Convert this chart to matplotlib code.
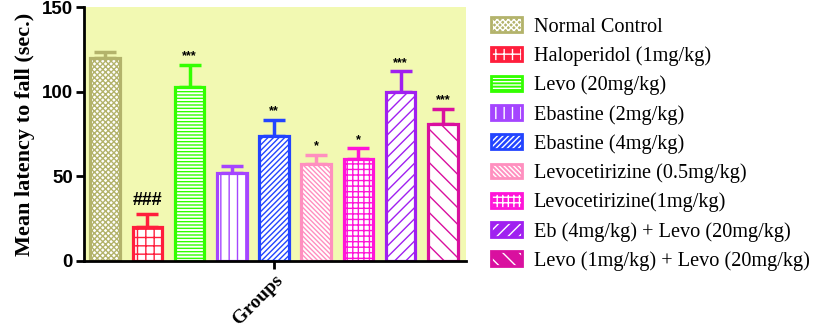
import matplotlib
matplotlib.use("Agg")
import matplotlib.pyplot as plt
from matplotlib.patches import Patch
from matplotlib.legend_handler import HandlerTuple
import numpy as np

groups = [
    "Normal Control",
    "Haloperidol (1mg/kg)",
    "Levo (20mg/kg)",
    "Ebastine (2mg/kg)",
    "Ebastine (4mg/kg)",
    "Levocetirizine (0.5mg/kg)",
    "Levocetirizine(1mg/kg)",
    "Eb (4mg/kg) + Levo (20mg/kg)",
    "Levo (1mg/kg) + Levo (20mg/kg)",
]
means = [120, 20, 103, 52, 74, 57, 60, 100, 81]
errors = [3.5, 8, 13, 4, 9.5, 5.5, 6.5, 12, 9]
marks = ["", "###", "***", "", "**", "*", "*", "***", "***"]

colors = ["#b3b36b", "#ff1e3c", "#33ff00", "#a545ff", "#2244ff",
          "#ff8fbf", "#ff14d8", "#a020f0", "#d9109f"]
hatches = ["xxxxxx", "++", "-----", "||", "//////", "\\\\\\\\\\\\\\", "+++", "///", "\\\\"]

fig = plt.figure(figsize=(8.27, 3.29), dpi=100)
ax = fig.add_axes([0.1016, 0.2067, 0.462, 0.772])
ax.set_facecolor("#f2f9b2")

x = np.arange(len(groups))
for i in x:
    ax.bar(i, means[i], width=0.7, color="white", edgecolor=colors[i],
           hatch=hatches[i], linewidth=2.3, zorder=2)
    ax.errorbar(i, means[i], yerr=[[0], [errors[i]]], fmt="none",
                ecolor=colors[i], elinewidth=2.5, capsize=8, capthick=2.5, zorder=1)
    if marks[i]:
        if marks[i].startswith("#"):
            ax.text(i, means[i] + errors[i] + 3, marks[i], ha="center", va="bottom",
                    fontsize=13, fontweight="bold", family="Liberation Sans")
        else:
            ax.text(i, means[i] + errors[i] + 1.5, marks[i], ha="center", va="bottom",
                    fontsize=9, fontweight="bold", family="Liberation Sans")

ax.set_xlim(-0.5, 8.55)
ax.set_ylim(0, 150)
ax.set_yticks([0, 50, 100, 150])
ax.set_xticks([4])
ax.set_xticklabels(["Groups"], rotation=45, ha="right", rotation_mode="anchor",
                   fontsize=14, fontweight="bold", family="Liberation Serif")
for lab in ax.get_yticklabels():
    lab.set_fontsize(13.5)
    lab.set_fontweight("bold")
    lab.set_family("Liberation Sans")
ax.tick_params(axis="both", width=2, length=6, pad=2)
ax.spines["top"].set_visible(False)
ax.spines["right"].set_visible(False)
ax.spines["left"].set_linewidth(2)
ax.spines["bottom"].set_linewidth(2)
ax.set_ylabel("Mean latency to fall (sec.)", fontsize=16, fontweight="bold",
              family="Liberation Serif", labelpad=5)

handles = []
for i in x:
    fill = Patch(facecolor=colors[i], edgecolor="white", hatch=hatches[i], linewidth=0)
    frame = Patch(facecolor="none", edgecolor=colors[i], linewidth=2)
    handles.append((fill, frame))
fig.legend(handles, groups, handler_map={tuple: HandlerTuple(ndivide=1)},
           loc="upper left", bbox_to_anchor=(0.572, 1.003), frameon=False,
           prop={"family": "Liberation Serif", "size": 14.6},
           handlelength=1.5, handleheight=0.75, labelspacing=0.47, handletextpad=0.6)

fig.savefig("out.png", dpi=100)
